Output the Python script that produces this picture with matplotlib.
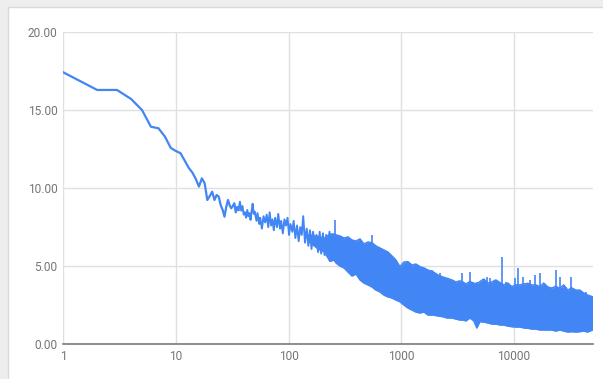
import matplotlib
matplotlib.use('Agg')
import matplotlib.pyplot as plt
from matplotlib.patches import Rectangle

# early part of the series, one value per x (1..36)
head_x = list(range(1, 37))
head_y = [17.43, 16.30, 16.30, 15.72, 15.01, 13.94, 13.84, 13.30, 12.58, 12.38,
          12.24, 11.75, 11.30, 11.00, 10.60, 10.10, 10.63, 10.31, 9.24, 9.50,
          9.77, 9.24, 9.56, 9.45, 8.90, 8.60, 8.17, 8.80, 9.24, 8.90,
          8.71, 8.85, 9.03, 8.45, 8.80, 8.60]

# middle part, still readable as a zigzag line
mid_x = [36, 37, 38, 39, 40, 41, 42, 43, 44, 45, 46, 47, 48, 49, 50, 52, 53,
         55, 56, 58, 60, 62, 64, 66, 68, 70, 72, 74, 76, 79, 81, 84, 86, 89,
         92, 95, 98, 101, 104, 108, 111, 115, 119, 123, 127, 131, 135, 140,
         145, 150, 155, 160, 165, 171, 177, 183, 189, 195, 202, 209, 216, 223,
         231, 239, 247, 255, 264]
mid_y = [8.60, 9.13, 8.55, 8.85, 8.30, 8.45, 8.10, 8.60, 8.20, 8.40, 7.96,
         8.55, 9.00, 8.35, 8.50, 7.90, 8.40, 7.70, 8.10, 7.40, 8.20, 7.80,
         8.30, 7.50, 8.45, 7.60, 8.00, 7.30, 8.10, 7.50, 8.35, 7.40, 7.90,
         7.10, 8.00, 7.60, 8.10, 7.00, 7.70, 7.20, 7.90, 6.80, 7.60, 6.60,
         7.50, 7.00, 8.20, 6.50, 7.40, 6.30, 7.30, 6.10, 7.20, 6.40, 7.00,
         5.90, 7.20, 5.80, 7.10, 5.70, 7.00, 5.60, 7.20, 5.50, 7.00, 5.40,
         6.90]

# dense noisy part: lower / upper envelope
band_x = [150, 183, 209, 233, 253, 264, 286, 311, 337, 366, 397, 431, 467,
          507, 550, 597, 648, 703, 763, 828, 898, 975, 1058, 1148, 1246, 1352,
          1467, 1592, 1727, 1913, 2118, 2346, 2546, 2819, 3059, 3320, 3529,
          3752, 4072, 4418, 4697, 4993, 5418, 5880, 6381, 6925, 7513, 8153,
          8847, 9601, 10416, 11303, 12266, 13311, 14442, 15672, 17007, 18456,
          20030, 21730, 23580, 25590, 27770, 30130, 32700, 35480, 38500,
          41770, 45330, 50000]
band_hi = [7.00, 6.90, 6.80, 7.05, 7.06, 7.00, 6.93, 6.80, 6.87, 6.67, 6.61,
           6.74, 6.42, 6.54, 6.50, 6.29, 6.16, 6.03, 5.90, 5.65, 5.39, 4.96,
           5.26, 5.28, 5.07, 5.13, 4.96, 4.88, 4.75, 4.64, 4.43, 4.30, 4.22,
           4.11, 3.98, 4.05, 3.98, 3.85, 4.00, 3.91, 3.85, 4.00, 4.17, 3.91,
           3.98, 4.11, 3.95, 3.79, 3.91, 3.68, 3.80, 3.79, 3.85, 3.89, 3.79,
           3.79, 3.68, 3.91, 3.66, 3.59, 3.70, 3.57, 3.79, 3.46, 3.60, 3.46,
           3.46, 3.27, 3.14, 3.03]
band_lo = [6.60, 6.10, 5.90, 5.30, 5.39, 5.20, 5.00, 4.88, 4.62, 4.36, 4.49,
           4.11, 3.91, 3.79, 3.66, 3.46, 3.34, 3.14, 3.02, 2.95, 2.82, 2.71,
           2.50, 2.31, 2.18, 2.05, 1.99, 2.05, 1.86, 1.86, 1.80, 1.75, 1.67,
           1.67, 1.60, 1.54, 1.54, 1.48, 1.67, 1.48, 1.03, 1.43, 1.41, 1.35,
           1.28, 1.28, 1.22, 1.22, 1.15, 1.11, 1.09, 1.09, 1.03, 1.01, 0.96,
           0.96, 0.90, 0.90, 0.90, 0.90, 0.83, 0.90, 0.83, 0.77, 0.79, 0.77,
           0.79, 0.83, 0.77, 0.90]

# isolated peaks sticking out of the band
peak_x = [258, 550, 1117, 1195, 1324, 1624, 1862, 2206, 2531, 2895, 3437,
          4072, 4670, 5727, 6127, 6785, 7875, 8612, 10206, 10920, 12090,
          13870, 15360, 17010, 20150, 23920, 25590, 29340, 32500, 38500, 44140]
peak_base = [6.9, 6.3, 5.0, 5.0, 4.9, 4.6, 4.5, 4.3, 4.1, 4.0, 3.95, 3.9,
             3.8, 3.8, 3.8, 3.8, 3.8, 3.75, 3.7, 3.7, 3.7, 3.7, 3.65, 3.6,
             3.5, 3.5, 3.5, 3.4, 3.4, 3.3, 3.1]
peak_y = [7.96, 7.0, 5.28, 5.18, 5.07, 4.75, 4.75, 4.54, 4.22, 4.11, 4.54,
          4.64, 4.0, 4.32, 4.22, 4.11, 5.60, 4.0, 4.22, 4.86, 4.32, 4.11,
          4.43, 4.54, 3.57, 4.75, 4.32, 3.68, 4.32, 3.46, 3.36]

x_ticks = [1, 10, 100, 1000, 10000]
x_labels = ['1', '10', '100', '1000', '10000']
y_ticks = [0, 5, 10, 15, 20]
y_labels = ['0.00', '5.00', '10.00', '15.00', '20.00']

blue = '#4285f4'
label_color = '#757575'

plt.rcParams['font.family'] = ['Roboto', 'DejaVu Sans']

fig = plt.figure(figsize=(6.03, 3.79), dpi=100, facecolor='#eeeeee')
card = Rectangle((7.5 / 603, -0.01), 1.0, (379 - 7) / 379 + 0.01,
                 transform=fig.transFigure, facecolor='white',
                 edgecolor='#d9d9d9', linewidth=1.0, zorder=-10)
fig.patches.append(card)

ax = fig.add_axes([63.3 / 603, 35 / 379, (592.5 - 63.3) / 603, (344 - 32.3) / 379])
ax.set_zorder(5)
ax.set_facecolor('none')

ax.plot(head_x, head_y, color=blue, lw=1.6, solid_joinstyle='round', zorder=3)
ax.plot(mid_x, mid_y, color=blue, lw=1.4, zorder=3)
ax.fill_between(band_x, band_lo, band_hi, color=blue, lw=0, zorder=3)
ax.plot(band_x, band_hi, color=blue, lw=1.1, zorder=3)
ax.plot(band_x, band_lo, color=blue, lw=1.1, zorder=3)
ax.vlines(peak_x, peak_base, peak_y, color=blue, lw=1.2, zorder=3)

ax.set_xscale('log')
ax.set_xlim(1, 50000)
ax.set_ylim(0, 20)
ax.set_xticks(x_ticks)
ax.set_xticklabels(x_labels)
ax.minorticks_off()
ax.set_yticks(y_ticks)
ax.set_yticklabels(y_labels)

ax.grid(True, color='#e0e0e0', lw=1.0, zorder=0)
ax.set_axisbelow(True)
for side in ['top', 'right', 'left']:
    ax.spines[side].set_visible(False)
ax.spines['bottom'].set_color('#7a7a7a')
ax.spines['bottom'].set_linewidth(1.2)
ax.spines['bottom'].set_zorder(4)

ax.tick_params(axis='both', length=0, labelsize=8.6, labelcolor=label_color)
ax.tick_params(axis='x', pad=4.0)
ax.tick_params(axis='y', pad=4.2)

fig.savefig('out.png', dpi=100, facecolor=fig.get_facecolor())
